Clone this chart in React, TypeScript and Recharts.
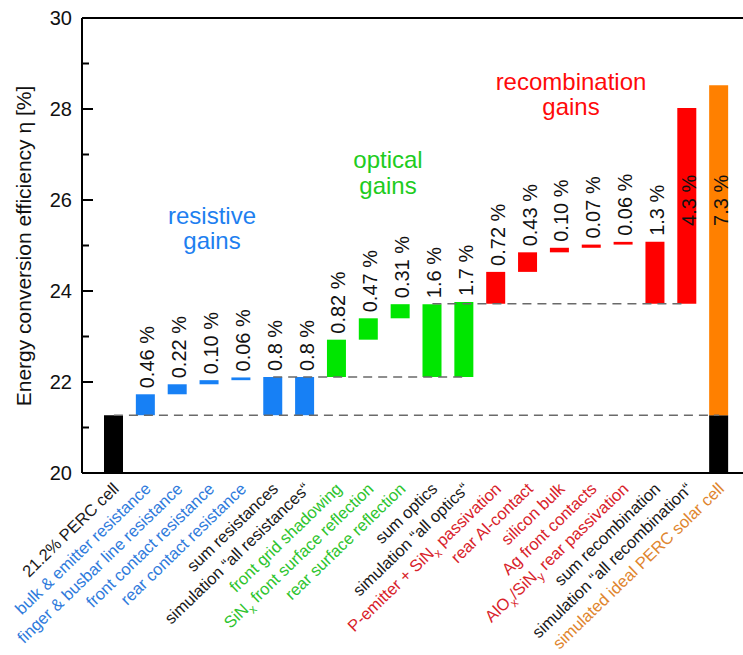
import React from 'react';
import {
  ComposedChart,
  Bar,
  Cell,
  XAxis,
  YAxis,
  LabelList,
  ReferenceLine,
  ReferenceDot,
} from 'recharts';

const FONT = '"Liberation Sans", Arial, Helvetica, sans-serif';

// categories (use _x for a subscript letter)
const categories = [
  '21.2% PERC cell',
  'bulk & emitter resistance',
  'finger & busbar line resistance',
  'front contact resistance',
  'rear contact resistance',
  'sum resistances',
  'simulation “all resistances“',
  'front grid shadowing',
  'SiN_x front surface reflection',
  'rear surface reflection',
  'sum optics',
  'simulation “all optics“',
  'P-emitter + SiN_x passivation',
  'rear Al-contact',
  'silicon bulk',
  'Ag front contacts',
  'AlO_x/SiN_y rear passivation',
  'sum recombination',
  'simulation “all recombination“',
  'simulated ideal PERC solar cell',
];

const groups = [
  'cell',
  'resistive', 'resistive', 'resistive', 'resistive', 'resistive', 'resistive',
  'optical', 'optical', 'optical', 'optical', 'optical',
  'recombination', 'recombination', 'recombination', 'recombination', 'recombination',
  'recombination', 'recombination',
  'ideal',
];

const isSummary = [
  false, false, false, false, false, true, true, false, false, false,
  true, true, false, false, false, false, false, true, true, false,
];

// efficiency (%) at bottom and top of each step
const lows = [
  20, 21.27, 21.73, 21.95, 22.04, 21.27, 21.27, 22.11, 22.93, 23.4,
  22.11, 22.11, 23.72, 24.42, 24.85, 24.95, 25.02, 23.72, 23.72, 21.27,
];
const highs = [
  21.27, 21.73, 21.95, 22.04, 22.1, 22.11, 22.11, 22.93, 23.4, 23.71,
  23.71, 23.76, 24.42, 24.85, 24.95, 25.02, 25.08, 25.08, 28.02, 28.52,
];

const valueLabels = [
  '', '0.46 %', '0.22 %', '0.10 %', '0.06 %', '0.8 %', '0.8 %', '0.82 %', '0.47 %', '0.31 %',
  '1.6 %', '1.7 %', '0.72 %', '0.43 %', '0.10 %', '0.07 %', '0.06 %', '1.3 %', '4.3 %', '7.3 %',
];

const yTicks = [20, 21, 22, 23, 24, 25, 26, 27, 28, 29, 30];
const rightTicks = [22, 24, 26, 28];

const barColors: Record<string, string> = {
  cell: '#000000',
  resistive: '#1780f5',
  optical: '#00e600',
  recombination: '#ff0000',
  ideal: '#ff8000',
};
const labelColors: Record<string, string> = {
  cell: '#1a1a1a',
  resistive: '#2f7bdc',
  optical: '#2ec42e',
  recombination: '#d8222a',
  ideal: '#e0852e',
};

const rows = categories.map((name, i) => ({
  name,
  base: groups[i] === 'ideal' ? [lows[0], lows[1]] : null,
  gain: [lows[i], highs[i]],
}));

// dashed guide levels between categories
const guides = [
  { from: 0, to: 19, level: lows[1] },
  { from: 5, to: 11, level: lows[7] },
  { from: 10, to: 18, level: lows[12] },
];

// labels drawn inside the tall bars, read upward from this level
const INSIDE_AT = 25.43;
const insideIdx = [18, 19];

function withSubs(text: string) {
  const parts = text.split(/_(\w)/);
  return parts.map((p, k) =>
    k % 2 === 1 ? (
      <tspan key={k} dy={5} fontSize={12}>{p}</tspan>
    ) : k > 0 ? (
      <tspan key={k} dy={-5}>{p}</tspan>
    ) : (
      <tspan key={k}>{p}</tspan>
    )
  );
}

function CatTick(props: any) {
  const { x, y, payload, index } = props;
  const i = typeof index === 'number' ? index : categories.indexOf(payload.value);
  const g = groups[i];
  const color = isSummary[i] ? '#1a1a1a' : labelColors[g];
  const tx = x + 6;
  const ty = y + 17;
  return (
    <text
      x={tx}
      y={ty}
      transform={`rotate(-44 ${tx} ${ty})`}
      textAnchor="end"
      fontSize={16.5}
      fontFamily={FONT}
      fill={color}
    >
      {withSubs(payload.value)}
    </text>
  );
}

function LeftTick(props: any) {
  const { x, y, payload } = props;
  const major = payload.value % 2 === 0;
  return (
    <g>
      <line x1={x} x2={x + (major ? 11 : 7)} y1={y} y2={y} stroke="#000" strokeWidth={2} />
      {major && (
        <text x={x - 10} y={y} dy={7} textAnchor="end" fontSize={20} fontFamily={FONT} fill="#111">
          {payload.value}
        </text>
      )}
    </g>
  );
}

function RightTick(props: any) {
  const { x, y } = props;
  return <line x1={x - 10} x2={x} y1={y} y2={y} stroke="#000" strokeWidth={2} />;
}

function ValueLabel(props: any) {
  const { x, y, width, height, index } = props;
  const text = valueLabels[index];
  if (!text || insideIdx.includes(index)) return null;
  const top = Math.min(Number(y), Number(y) + Number(height));
  const tx = Number(x) + Number(width) / 2 + 9;
  const ty = top - 6;
  return (
    <text x={tx} y={ty} transform={`rotate(-90 ${tx} ${ty})`} fontSize={20} fontFamily={FONT} fill="#111">
      {text}
    </text>
  );
}

function InsideLabel(props: any) {
  const { viewBox, text } = props;
  const tx = viewBox.x + viewBox.width / 2 + 9;
  const ty = viewBox.y + viewBox.height / 2;
  return (
    <text x={tx} y={ty} transform={`rotate(-90 ${tx} ${ty})`} fontSize={20} fontFamily={FONT} fill="#111">
      {text}
    </text>
  );
}

export default function App() {
  return (
    <div
      style={{
        position: 'absolute',
        left: 0,
        top: 0,
        width: 743,
        height: 655,
        overflow: 'hidden',
        background: '#fff',
        fontFamily: FONT,
      }}
    >
      <ComposedChart
        width={752}
        height={655}
        data={rows}
        margin={{ top: 18, right: 5, bottom: 0, left: 0 }}
        barSize={19}
        barGap={-19}
      >
        <XAxis
          dataKey="name"
          interval={0}
          padding={{ left: 16, right: 12 }}
          tick={<CatTick />}
          tickLine={false}
          tickSize={0}
          tickMargin={0}
          height={182}
          axisLine={{ stroke: '#000', strokeWidth: 2 }}
        />
        <YAxis
          domain={[20, 30]}
          ticks={yTicks}
          width={82}
          tick={<LeftTick />}
          tickLine={false}
          tickSize={0}
          tickMargin={0}
          axisLine={{ stroke: '#000', strokeWidth: 2 }}
          allowDataOverflow
        />
        <YAxis
          yAxisId="right"
          orientation="right"
          domain={[20, 30]}
          ticks={rightTicks}
          width={0}
          tick={<RightTick />}
          tickLine={false}
          tickSize={0}
          tickMargin={0}
          axisLine={{ stroke: '#000', strokeWidth: 2 }}
        />
        <ReferenceLine y={30} stroke="#000" strokeWidth={2} />
        {guides.map((g, k) => (
          <ReferenceLine
            key={k}
            segment={[
              { x: categories[g.from], y: g.level },
              { x: categories[g.to], y: g.level },
            ]}
            stroke="#6a6a6a"
            strokeWidth={1.5}
            strokeDasharray="9 6"
          />
        ))}
        <Bar dataKey="base" fill="#000" isAnimationActive={false} />
        <Bar dataKey="gain" isAnimationActive={false}>
          {rows.map((_, i) => (
            <Cell key={i} fill={barColors[groups[i]]} />
          ))}
          <LabelList content={<ValueLabel />} />
        </Bar>
        {insideIdx.map((i) => (
          <ReferenceDot
            key={i}
            x={categories[i]}
            y={INSIDE_AT}
            r={0}
            fill="none"
            stroke="none"
            label={<InsideLabel text={valueLabels[i]} />}
          />
        ))}
      </ComposedChart>
      <svg
        width={743}
        height={655}
        style={{ position: 'absolute', left: 0, top: 0, pointerEvents: 'none' }}
        fontFamily={FONT}
      >
        <text x={31} y={246} transform="rotate(-90 31 246)" textAnchor="middle" fontSize={21} fill="#111">
          Energy conversion efficiency η [%]
        </text>
        <text textAnchor="middle" fontSize={24} fill="#1e7ff0">
          <tspan x={212} y={224}>resistive</tspan>
          <tspan x={212} y={249}>gains</tspan>
        </text>
        <text textAnchor="middle" fontSize={24} fill="#20cc20">
          <tspan x={388} y={168}>optical</tspan>
          <tspan x={388} y={194}>gains</tspan>
        </text>
        <text textAnchor="middle" fontSize={24} fill="#ff0a0a">
          <tspan x={571} y={90}>recombination</tspan>
          <tspan x={571} y={115}>gains</tspan>
        </text>
      </svg>
    </div>
  );
}
